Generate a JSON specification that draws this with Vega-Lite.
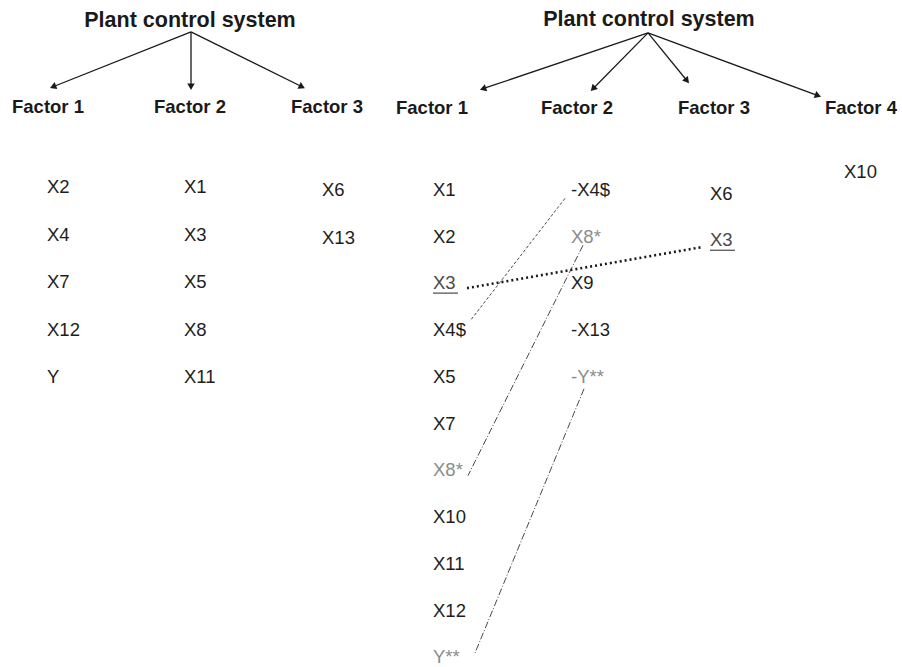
{
  "$schema": "https://vega.github.io/schema/vega-lite/v6.json",
  "width": 902,
  "height": 667,
  "autosize": {"type": "fit", "contains": "padding"},
  "padding": 0,
  "background": "white",
  "config": {"view": {"stroke": null}, "font": "Liberation Sans"},
  "datasets": {
    "titles": [
      {"label": "Plant control system", "x": 190, "y": 21},
      {"label": "Plant control system", "x": 649, "y": 20}
    ],
    "factors": [
      {"label": "Factor 1", "x": 48, "y": 107},
      {"label": "Factor 2", "x": 190, "y": 107},
      {"label": "Factor 3", "x": 327, "y": 107},
      {"label": "Factor 1", "x": 432, "y": 108},
      {"label": "Factor 2", "x": 577, "y": 108},
      {"label": "Factor 3", "x": 714, "y": 108},
      {"label": "Factor 4", "x": 861, "y": 108}
    ],
    "items": [
      {"label": "X2", "x": 47, "y": 188, "kind": "normal"},
      {"label": "X4", "x": 47, "y": 236, "kind": "normal"},
      {"label": "X7", "x": 47, "y": 283, "kind": "normal"},
      {"label": "X12", "x": 47, "y": 331, "kind": "normal"},
      {"label": "Y", "x": 47, "y": 378, "kind": "normal"},
      {"label": "X1", "x": 184, "y": 188, "kind": "normal"},
      {"label": "X3", "x": 184, "y": 236, "kind": "normal"},
      {"label": "X5", "x": 184, "y": 283, "kind": "normal"},
      {"label": "X8", "x": 184, "y": 331, "kind": "normal"},
      {"label": "X11", "x": 184, "y": 378, "kind": "normal"},
      {"label": "X6", "x": 322, "y": 191, "kind": "normal"},
      {"label": "X13", "x": 322, "y": 239, "kind": "normal"},
      {"label": "X1", "x": 433, "y": 191, "kind": "normal"},
      {"label": "X2", "x": 433, "y": 238, "kind": "normal"},
      {"label": "X3", "x": 433, "y": 284, "kind": "under"},
      {"label": "X4$", "x": 433, "y": 331, "kind": "normal"},
      {"label": "X5", "x": 433, "y": 378, "kind": "normal"},
      {"label": "X7", "x": 433, "y": 425, "kind": "normal"},
      {"label": "X8*", "x": 433, "y": 471, "kind": "gray"},
      {"label": "X10", "x": 433, "y": 519, "kind": "normal"},
      {"label": "X11", "x": 433, "y": 566, "kind": "normal"},
      {"label": "X12", "x": 433, "y": 613, "kind": "normal"},
      {"label": "Y**", "x": 433, "y": 659, "kind": "gray"},
      {"label": "-X4$", "x": 571, "y": 191, "kind": "normal"},
      {"label": "X8*", "x": 571, "y": 238, "kind": "gray"},
      {"label": "X9", "x": 571, "y": 284, "kind": "normal"},
      {"label": "-X13", "x": 571, "y": 331, "kind": "normal"},
      {"label": "-Y**", "x": 571, "y": 378, "kind": "gray"},
      {"label": "X6", "x": 710, "y": 195, "kind": "normal"},
      {"label": "X3", "x": 710, "y": 241, "kind": "under"},
      {"label": "X10", "x": 844, "y": 173, "kind": "small"}
    ],
    "underlines": [
      {"x": 433, "x2": 458, "y": 294},
      {"x": 710, "x2": 735, "y": 251}
    ],
    "arrows": [
      {"x": 191, "y": 32, "x2": 53, "y2": 87},
      {"x": 191, "y": 32, "x2": 191, "y2": 87},
      {"x": 191, "y": 32, "x2": 302, "y2": 87},
      {"x": 648, "y": 33, "x2": 483, "y2": 89},
      {"x": 648, "y": 33, "x2": 593, "y2": 89},
      {"x": 648, "y": 33, "x2": 687, "y2": 81},
      {"x": 648, "y": 33, "x2": 818, "y2": 96}
    ],
    "dotted": [{"x": 467, "y": 289, "x2": 701, "y2": 248}],
    "dashed": [{"x": 565, "y": 199, "x2": 470, "y2": 322}],
    "dashdot": [
      {"x": 583, "y": 246, "x2": 468, "y2": 477},
      {"x": 584, "y": 390, "x2": 475, "y2": 655}
    ]
  },
  "encoding": {
    "x": {"field": "x", "type": "quantitative", "scale": {"domain": [0, 902]}, "axis": null},
    "y": {"field": "y", "type": "quantitative", "scale": {"domain": [667, 0]}, "axis": null}
  },
  "layer": [
    {
      "data": {"name": "titles"},
      "mark": {"type": "text", "fontWeight": "bold", "fontSize": 21.5, "align": "center", "baseline": "middle", "color": "#1a1a1a"},
      "encoding": {"text": {"field": "label"}}
    },
    {
      "data": {"name": "factors"},
      "mark": {"type": "text", "fontWeight": "bold", "fontSize": 18.5, "align": "center", "baseline": "middle", "color": "#1a1a1a"},
      "encoding": {"text": {"field": "label"}}
    },
    {
      "data": {"name": "items"},
      "mark": {"type": "text", "align": "left", "baseline": "middle"},
      "encoding": {
        "text": {"field": "label"},
        "color": {"field": "kind", "type": "nominal", "legend": null,
          "scale": {"domain": ["normal", "gray", "under", "small"], "range": ["#1e1e1e", "#8c8c8c", "#4a4a4a", "#1e1e1e"]}},
        "size": {"field": "kind", "type": "nominal", "legend": null,
          "scale": {"domain": ["normal", "gray", "under", "small"], "range": [18.5, 18.5, 18.5, 15]}}
      }
    },
    {
      "data": {"name": "underlines"},
      "mark": {"type": "rule", "color": "#4a4a4a", "strokeWidth": 1.2},
      "encoding": {"x2": {"field": "x2"}}
    },
    {
      "data": {"name": "arrows"},
      "mark": {"type": "rule", "color": "#1a1a1a", "strokeWidth": 1.3},
      "encoding": {"x2": {"field": "x2"}, "y2": {"field": "y2"}}
    },
    {
      "data": {"name": "arrows"},
      "transform": [{"calculate": "atan2(datum.x2 - datum.x, -(datum.y2 - datum.y)) * 180 / PI", "as": "ang"}],
      "mark": {"type": "point", "shape": "triangle-up", "filled": true, "color": "#1a1a1a", "size": 55, "opacity": 1},
      "encoding": {
        "x": {"field": "x2", "type": "quantitative"},
        "y": {"field": "y2", "type": "quantitative"},
        "angle": {"field": "ang", "type": "quantitative", "scale": null}
      }
    },
    {
      "data": {"name": "dotted"},
      "mark": {"type": "rule", "color": "#1a1a1a", "strokeWidth": 2.6, "strokeDash": [2, 3]},
      "encoding": {"x2": {"field": "x2"}, "y2": {"field": "y2"}}
    },
    {
      "data": {"name": "dashed"},
      "mark": {"type": "rule", "color": "#333333", "strokeWidth": 0.9, "strokeDash": [3, 2]},
      "encoding": {"x2": {"field": "x2"}, "y2": {"field": "y2"}}
    },
    {
      "data": {"name": "dashdot"},
      "mark": {"type": "rule", "color": "#333333", "strokeWidth": 0.9, "strokeDash": [7, 2, 1, 2]},
      "encoding": {"x2": {"field": "x2"}, "y2": {"field": "y2"}}
    }
  ]
}
